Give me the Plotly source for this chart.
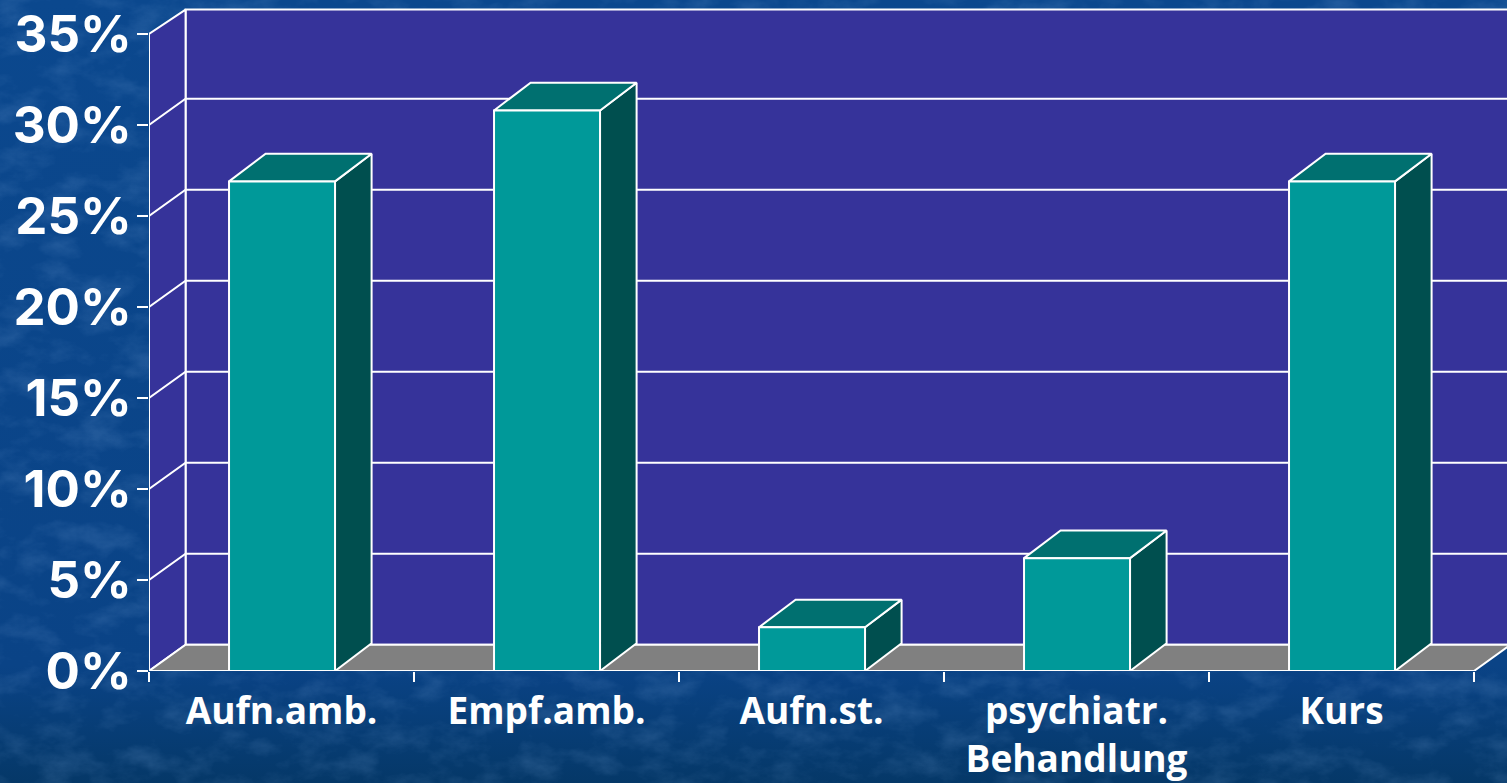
import urllib.parse
import plotly.graph_objects as go

# ---- data ----
categories = ["Aufn.amb.", "Empf.amb.", "Aufn.st.", "psychiatr.<br>Behandlung", "Kurs"]
values = [26.9, 30.8, 2.4, 6.2, 26.9]
y_ticks = [0, 5, 10, 15, 20, 25, 30, 35]
y_labels = ["0%", "5%", "10%", "15%", "20%", "25%", "30%", "35%"]

# ---- 3-D look, in axis units ----
DX = 0.138      # depth offset along x (category units)
DY = 1.44       # depth offset along y (percent)
BAR_DY = 1.52   # depth offset of the bar tops
BAR = 0.4       # bar width (category units)
BAR_SHIFT = 0.002
YMAX = 35
WHITE = "#ffffff"

W, H = 1507, 783
ML, MB = 149, 112
X_RANGE = [0, (W - ML) / 265]
Y_RANGE = [0, (H - MB) / 18.2]


def poly(xs, ys, fill, lw=2):
    return go.Scatter(x=xs, y=ys, mode="lines", fill="toself", fillcolor=fill,
                      line=dict(color=WHITE, width=lw), hoverinfo="skip",
                      showlegend=False, cliponaxis=False)


n = len(categories)
fig = go.Figure()

# back wall, left wall, floor
fig.add_trace(poly([DX, n + DX, n + DX, DX, DX], [DY, DY, YMAX + DY - 0.1, YMAX + DY - 0.1, DY], "#36339a"))
fig.add_trace(poly([0, DX, DX, 0, 0], [0, DY, YMAX + DY - 0.1, YMAX, 0], "#36339a"))
fig.add_trace(poly([0, n, n + DX, DX, 0], [0, 0, DY, DY, 0], "#808080"))

# gridlines on back wall and left wall
gx, gy = [], []
for t in y_ticks[1:-1]:
    gx += [0, DX, n + DX, None]
    gy += [t, t + DY, t + DY, None]
fig.add_trace(go.Scatter(x=gx, y=gy, mode="lines", line=dict(color=WHITE, width=2),
                         hoverinfo="skip", showlegend=False, cliponaxis=False))

# bars
for i, v in enumerate(values):
    l = i + 0.5 + BAR_SHIFT - BAR / 2
    r = i + 0.5 + BAR_SHIFT + BAR / 2
    fig.add_trace(poly([r, r + DX, r + DX, r, r], [0, BAR_DY, v + BAR_DY, v, 0], "#004f4f"))
    fig.add_trace(poly([l, l + DX, r + DX, r, l], [v, v + BAR_DY, v + BAR_DY, v, v], "#007070"))
    fig.add_trace(poly([l, r, r, l, l], [0, 0, v, v, 0], "#009999"))

# marbled blue backdrop
svg = f'''<svg xmlns="http://www.w3.org/2000/svg" width="{W}" height="{H}">
<defs>
<linearGradient id="g" x1="0" y1="0" x2="0" y2="1">
<stop offset="0" stop-color="#0b488e"/><stop offset="0.85" stop-color="#0a4386"/><stop offset="1" stop-color="#053868"/>
</linearGradient>
<filter id="t" x="0" y="0" width="100%" height="100%">
<feTurbulence type="fractalNoise" baseFrequency="0.025 0.04" numOctaves="5" seed="11"/>
<feColorMatrix type="matrix" values="0 0 0 0 0.25  0 0 0 0 0.45  0 0 0 0 0.78  2.2 0 0 0 -0.95"/>
</filter>
</defs>
<rect width="{W}" height="{H}" fill="url(#g)"/>
<rect width="{W}" height="{H}" filter="url(#t)" opacity="0.18"/>
</svg>'''
bg = "data:image/svg+xml;charset=utf-8," + urllib.parse.quote(svg)

pw, ph = W - ML, H - MB
fig.update_layout(
    width=W, height=H,
    margin=dict(l=ML, r=0, t=0, b=MB, pad=0),
    paper_bgcolor="#0a4488",
    plot_bgcolor="rgba(0,0,0,0)",
    showlegend=False,
    images=[dict(source=bg, xref="paper", yref="paper", x=-ML / pw, y=1,
                 sizex=W / pw, sizey=H / ph, xanchor="left", yanchor="top",
                 sizing="stretch", layer="below")],
    xaxis=dict(range=X_RANGE, showgrid=False, zeroline=False, showline=False, automargin=False,
               tickmode="array", tickvals=[i + 0.5 for i in range(n)], ticktext=categories,
               ticks="", ticklabelstandoff=15,
               tickfont=dict(family="Open Sans", size=37, color=WHITE, weight=700),
               minor=dict(tickmode="array", tickvals=list(range(n + 1)), ticks="outside",
                          ticklen=10, tickwidth=2, tickcolor=WHITE, showgrid=False)),
    yaxis=dict(range=Y_RANGE, showgrid=False, zeroline=False, showline=False, automargin=False,
               tickmode="array", tickvals=y_ticks, ticktext=y_labels,
               ticks="outside", ticklen=11, tickwidth=2, tickcolor=WHITE,
               ticklabelstandoff=-5,
               tickfont=dict(family="Inter", size=51, color=WHITE, weight=700)),
)

fig.write_html("out.html", config={"displayModeBar": False},
               post_script="document.body.style.margin='0';document.body.style.overflow='hidden';")
